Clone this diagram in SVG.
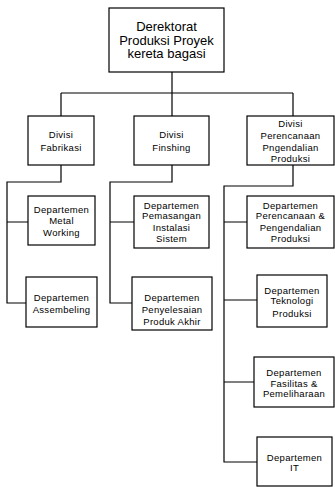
<svg xmlns="http://www.w3.org/2000/svg" width="335" height="487" viewBox="0 0 335 487">
<style>
.box{fill:#fff;stroke:#000;stroke-width:1.2}
.ln{fill:none;stroke:#000;stroke-width:1.2}
text{font-family:"Liberation Sans",Arial,sans-serif;font-size:9.5px;fill:#000;text-anchor:middle;letter-spacing:0.3px}
.big{font-size:13px;letter-spacing:0}
</style>
<rect width="335" height="487" fill="#fff"/>
<g id="connectors">
<path class="ln" d="M172,72 V93 M61,93 H293 M61,93 V116 M172,93 V116 M293,93 V116"/>
<path class="ln" d="M61,165 V182 H7 V303 H26 M7,222 H28"/>
<path class="ln" d="M172,165 V182 H110 V303 H132 M110,222 H134"/>
<path class="ln" d="M293,165 V186 H224 V462 H257 M224,222 H247 M224,300 H257 M224,382 H254"/>
</g>
<g id="n_top"><rect class="box" x="109" y="8" width="115" height="64"/>
<text class="big" x="166.5" y="30.5">Derektorat</text><text class="big" x="166.5" y="44.5">Produksi Proyek</text><text class="big" x="166.5" y="58">kereta bagasi</text></g>
<g id="n_fab"><rect class="box" x="28" y="116" width="66" height="49"/>
<text x="61" y="137.5">Divisi</text><text x="61" y="150.5">Fabrikasi</text></g>
<g id="n_fin"><rect class="box" x="134" y="116" width="75" height="49"/>
<text x="171.5" y="138">Divisi</text><text x="171.5" y="150.5">Finshing</text></g>
<g id="n_per"><rect class="box" x="247" y="116" width="87" height="49"/>
<text x="290.5" y="126.5">Divisi</text><text x="290.5" y="139">Perencanaan</text><text x="290.5" y="150.5">Pngendalian</text><text x="290.5" y="162">Produksi</text></g>
<g id="d_metal"><rect class="box" x="28" y="196" width="67" height="49"/>
<text x="61.5" y="212.5">Departemen</text><text x="61.5" y="223.5">Metal</text><text x="61.5" y="235.5">Working</text></g>
<g id="d_asm"><rect class="box" x="26" y="277" width="71" height="50"/>
<text x="61.5" y="300.5">Departemen</text><text x="61.5" y="312.5">Assembeling</text></g>
<g id="d_pem"><rect class="box" x="134" y="196" width="75" height="52"/>
<text x="171.5" y="208.5">Departemen</text><text x="171.5" y="218.5">Pemasangan</text><text x="171.5" y="230.5">Instalasi</text><text x="171.5" y="241.5">Sistem</text></g>
<g id="d_pny"><rect class="box" x="132" y="277" width="80" height="53"/>
<text x="172" y="300.5">Departemen</text><text x="172" y="312.5">Penyelesaian</text><text x="172" y="324.5">Produk Akhir</text></g>
<g id="d_ppp"><rect class="box" x="247" y="196" width="87" height="52"/>
<text x="290.5" y="208.5">Departemen</text><text x="290.5" y="218.5">Perencanaan &amp;</text><text x="290.5" y="230.5">Pengendalian</text><text x="290.5" y="241.5">Produksi</text></g>
<g id="d_tek"><rect class="box" x="257" y="275" width="70" height="52"/>
<text x="292" y="293.5">Departemen</text><text x="292" y="303.5">Teknologi</text><text x="292" y="316.5">Produksi</text></g>
<g id="d_fas"><rect class="box" x="254" y="357" width="80" height="50"/>
<text x="294" y="375.5">Departemen</text><text x="294" y="386.5">Fasilitas &amp;</text><text x="294" y="396.5">Pemeliharaan</text></g>
<g id="d_it"><rect class="box" x="257" y="437" width="75" height="49"/>
<text x="294.5" y="460.5">Departemen</text><text x="294.5" y="471">IT</text></g>
</svg>
